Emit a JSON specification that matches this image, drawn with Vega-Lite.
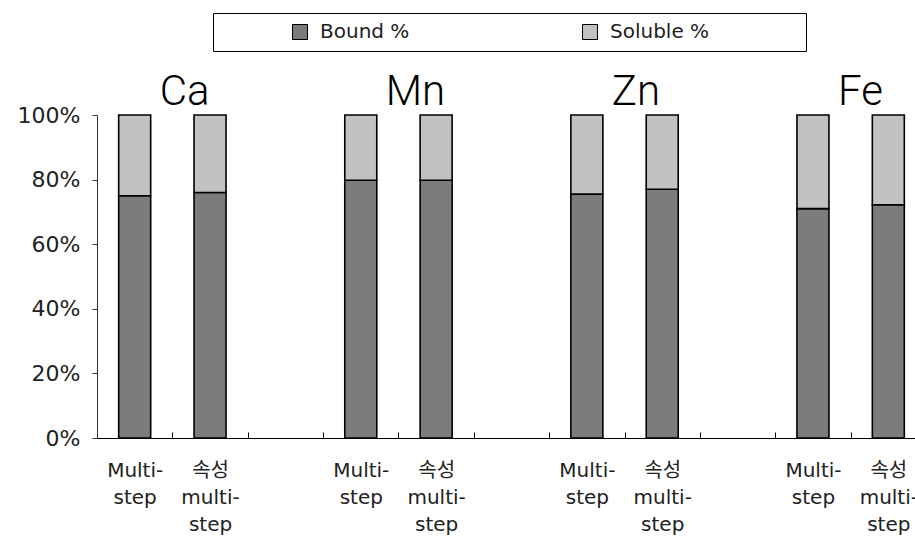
{
  "$schema": "https://vega.github.io/schema/vega-lite/v6.json",
  "autosize": "none",
  "padding": {"left": 97, "top": 115, "right": 0, "bottom": 102},
  "width": 818,
  "height": 323,
  "background": "white",
  "config": {"view": {"stroke": null}},
  "datasets": {
    "bars": [
      {"slot": "Ca1", "element": "Ca", "component": "Bound %", "value": 75},
      {"slot": "Ca1", "element": "Ca", "component": "Soluble %", "value": 25},
      {"slot": "Ca2", "element": "Ca", "component": "Bound %", "value": 76},
      {"slot": "Ca2", "element": "Ca", "component": "Soluble %", "value": 24},
      {"slot": "Mn1", "element": "Mn", "component": "Bound %", "value": 79.8},
      {"slot": "Mn1", "element": "Mn", "component": "Soluble %", "value": 20.2},
      {"slot": "Mn2", "element": "Mn", "component": "Bound %", "value": 79.8},
      {"slot": "Mn2", "element": "Mn", "component": "Soluble %", "value": 20.2},
      {"slot": "Zn1", "element": "Zn", "component": "Bound %", "value": 75.5},
      {"slot": "Zn1", "element": "Zn", "component": "Soluble %", "value": 24.5},
      {"slot": "Zn2", "element": "Zn", "component": "Bound %", "value": 77},
      {"slot": "Zn2", "element": "Zn", "component": "Soluble %", "value": 23},
      {"slot": "Fe1", "element": "Fe", "component": "Bound %", "value": 71},
      {"slot": "Fe1", "element": "Fe", "component": "Soluble %", "value": 29},
      {"slot": "Fe2", "element": "Fe", "component": "Bound %", "value": 72.2},
      {"slot": "Fe2", "element": "Fe", "component": "Soluble %", "value": 27.8}
    ],
    "titles": [
      {"slot": "Ca1", "label": "Ca", "top": 100},
      {"slot": "Mn1", "label": "Mn", "top": 100},
      {"slot": "Zn1", "label": "Zn", "top": 100},
      {"slot": "Fe1", "label": "Fe", "top": 100}
    ]
  },
  "encoding": {
    "x": {
      "field": "slot",
      "type": "nominal",
      "scale": {
        "type": "band",
        "domain": ["Ca1", "Ca2", "gapA", "Mn1", "Mn2", "gapB", "Zn1", "Zn2", "gapC", "Fe1", "Fe2"],
        "range": [0, 829],
        "paddingInner": 0,
        "paddingOuter": 0
      },
      "axis": {
        "title": null,
        "labelAngle": 0,
        "tickBand": "extent",
        "tickSize": -6,
        "tickColor": "#000",
        "tickWidth": 1,
        "domainColor": "#000",
        "domainWidth": 1.2,
        "labelFont": "DejaVu Sans, Noto Sans CJK KR",
        "labelFontSize": 20,
        "labelColor": "#222",
        "labelLineHeight": 27,
        "labelBaseline": "top",
        "labelPadding": 28,
        "labelLimit": 0,
        "labelOverlap": false,
        "labelExpr": "test(/1$/, datum.value) ? ['Multi-', 'step'] : test(/2$/, datum.value) ? ['속성', 'multi-', 'step'] : ''"
      }
    }
  },
  "layer": [
    {
      "data": {"name": "bars"},
      "mark": {"type": "bar", "size": 32, "stroke": "#000", "strokeWidth": 1.6},
      "encoding": {
        "y": {
          "field": "value",
          "type": "quantitative",
          "stack": "zero",
          "scale": {"domain": [0, 100], "nice": false},
          "axis": {
            "title": null,
            "values": [0, 20, 40, 60, 80, 100],
            "grid": false,
            "tickSize": 5,
            "tickColor": "#333",
            "domainColor": "#333",
            "labelFont": "DejaVu Sans",
            "labelFontSize": 22,
            "labelColor": "#222",
            "labelPadding": 12,
            "labelExpr": "datum.value + '%'"
          }
        },
        "order": {"field": "component", "sort": "ascending"},
        "color": {
          "field": "component",
          "type": "nominal",
          "scale": {"domain": ["Bound %", "Soluble %"], "range": ["#7c7c7c", "#c2c2c2"]},
          "legend": {
            "title": null,
            "orient": "none",
            "direction": "horizontal",
            "legendX": 116,
            "legendY": -102,
            "strokeColor": "#000",
            "fillColor": "#fff",
            "padding": 9,
            "symbolType": "square",
            "symbolSize": 225,
            "symbolStrokeColor": "#000",
            "symbolStrokeWidth": 1,
            "symbolOffset": 68,
            "labelOffset": 10,
            "labelFont": "DejaVu Sans",
            "labelFontSize": 20,
            "labelColor": "#222",
            "columnPadding": 102,
            "labelLimit": 0,
            "labelExpr": "datum.value == 'Soluble %' ? datum.value + '\u2800\u2800\u2800\u2800\u2800\u2800' : datum.value"
          }
        }
      }
    },
    {
      "data": {"name": "titles"},
      "mark": {"type": "text", "align": "left", "baseline": "alphabetic", "dx": 25, "dy": -10, "font": "Roboto", "fontWeight": 300, "fontSize": 42, "color": "#000"},
      "encoding": {
        "y": {"field": "top", "type": "quantitative"},
        "text": {"field": "label"}
      }
    }
  ]
}
